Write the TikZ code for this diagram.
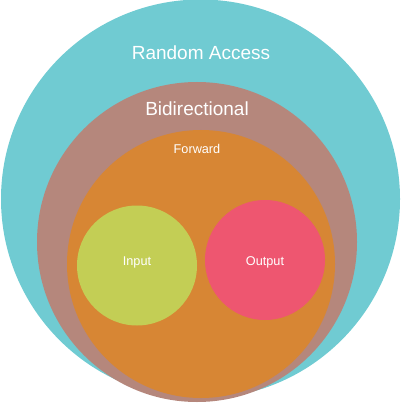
\documentclass[tikz,border=0pt]{standalone}
\usepackage{fontspec}
\setmainfont{Liberation Sans}
\definecolor{ctealc}{HTML}{70CBD2}
\definecolor{cbidi}{HTML}{B5877C}
\definecolor{cfwd}{HTML}{D78634}
\definecolor{cinp}{HTML}{C3CE55}
\definecolor{coutp}{HTML}{EE5670}
\begin{document}
\begin{tikzpicture}[x=1pt,y=-1pt,
  lbl/.style={text=white,inner sep=0pt},
  big/.style={lbl,font=\fontsize{19}{22}\selectfont},
  small/.style={lbl,font=\fontsize{12.7}{15}\selectfont}]
\useasboundingbox (0,0) rectangle (401,403);
\fill[ctealc] (200.5,199) circle[radius=199.5];
\fill[cbidi] (197,242) circle[radius=160];
\fill[cfwd] (201,264) circle[radius=134];
\fill[cinp] (137,265.5) circle[radius=60];
\fill[coutp] (265,260) circle[radius=60];
\node[big] (ra) at (201,53) {Random Access};
\node[big] (bi) at (197,109) {Bidirectional};
\node[small] (fw) at (197,149) {Forward};
\node[small] (in) at (137,262) {Input};
\node[small] (out) at (265,262) {Output};
\end{tikzpicture}
\end{document}
